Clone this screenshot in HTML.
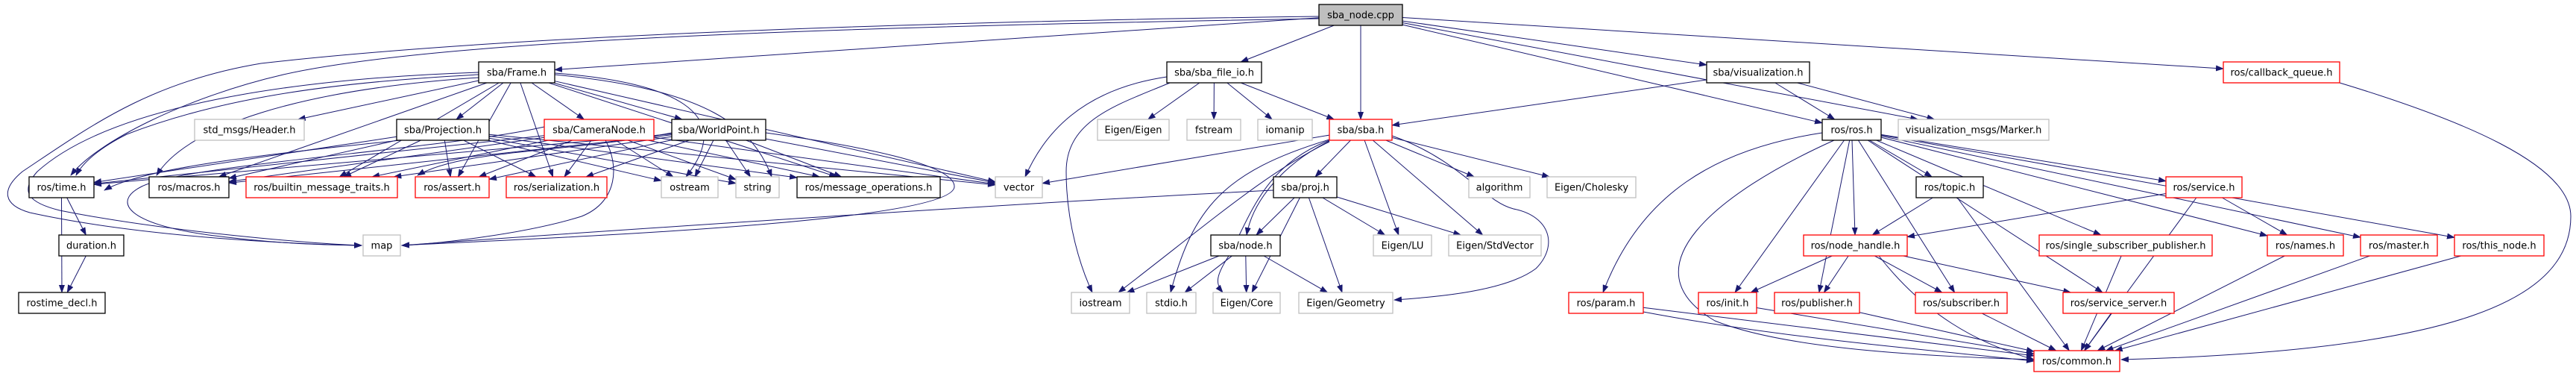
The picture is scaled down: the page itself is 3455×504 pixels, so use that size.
<!DOCTYPE html>
<html><head><meta charset="utf-8">
<style>
html,body{margin:0;padding:0;background:#fff;}
svg{display:block;}
text{font-family:"DejaVu Sans","Liberation Sans",sans-serif;font-size:13px;text-anchor:middle;fill:#000;}
.k{fill:#fff;stroke:#000;stroke-width:1.3}
.r{fill:#fff;stroke:#ff0000;stroke-width:1.3}
.g{fill:#fff;stroke:#bfbfbf;stroke-width:1.3}
.root{fill:#bfbfbf;stroke:#000;stroke-width:1.3}
.e{fill:none;stroke:#191970;stroke-width:1}
</style></head>
<body>
<svg id="s" width="3455" height="504" viewBox="0 0 3455 504" xmlns="http://www.w3.org/2000/svg">
<defs><marker id="a" markerWidth="11" markerHeight="8" refX="10" refY="4" orient="auto" markerUnits="userSpaceOnUse"><path d="M0,0L11,4L0,8z" fill="#191970"/></marker></defs>
<g id="edges"></g>
<g id="nodes">
<rect class="root" x="1769" y="6" width="112" height="28"/><text x="1825" y="24.5">sba_node.cpp</text>
<rect class="k" x="642" y="83" width="102" height="28"/><text x="693" y="101.5">sba/Frame.h</text>
<rect class="k" x="1565" y="83" width="127" height="28"/><text x="1628.5" y="101.5">sba/sba_file_io.h</text>
<rect class="k" x="2289" y="83" width="138" height="28"/><text x="2358" y="101.5">sba/visualization.h</text>
<rect class="r" x="2982" y="83" width="156" height="28"/><text x="3060" y="101.5">ros/callback_queue.h</text>

<rect class="g" x="261" y="160" width="147" height="28"/><text x="334.5" y="178.5">std_msgs/Header.h</text>
<rect class="k" x="532" y="160" width="124" height="28"/><text x="594" y="178.5">sba/Projection.h</text>
<rect class="r" x="730" y="160" width="147" height="28"/><text x="803.5" y="178.5">sba/CameraNode.h</text>
<rect class="k" x="901" y="160" width="126" height="28"/><text x="964" y="178.5">sba/WorldPoint.h</text>
<rect class="g" x="1472" y="160" width="96" height="28"/><text x="1520" y="178.5">Eigen/Eigen</text>
<rect class="g" x="1592" y="160" width="72" height="28"/><text x="1628" y="178.5">fstream</text>
<rect class="g" x="1687" y="160" width="73" height="28"/><text x="1723.5" y="178.5">iomanip</text>
<rect class="r" x="1783" y="160" width="84" height="28"/><text x="1825" y="178.5">sba/sba.h</text>
<rect class="k" x="2444" y="160" width="79" height="28"/><text x="2483.5" y="178.5">ros/ros.h</text>
<rect class="g" x="2546" y="160" width="202" height="28"/><text x="2647" y="178.5">visualization_msgs/Marker.h</text>

<rect class="k" x="39" y="237" width="87" height="28"/><text x="82.5" y="255.5">ros/time.h</text>
<rect class="k" x="200" y="237" width="107" height="28"/><text x="253.5" y="255.5">ros/macros.h</text>
<rect class="r" x="330" y="237" width="203" height="28"/><text x="431.5" y="255.5">ros/builtin_message_traits.h</text>
<rect class="r" x="557" y="237" width="99" height="28"/><text x="606.5" y="255.5">ros/assert.h</text>
<rect class="r" x="679" y="237" width="135" height="28"/><text x="746.5" y="255.5">ros/serialization.h</text>
<rect class="g" x="887" y="237" width="76" height="28"/><text x="925" y="255.5">ostream</text>
<rect class="g" x="987" y="237" width="58" height="28"/><text x="1016" y="255.5">string</text>
<rect class="k" x="1069" y="237" width="192" height="28"/><text x="1165" y="255.5">ros/message_operations.h</text>
<rect class="g" x="1335" y="237" width="63" height="28"/><text x="1366.5" y="255.5">vector</text>
<rect class="k" x="1708" y="237" width="85" height="28"/><text x="1750.5" y="255.5">sba/proj.h</text>
<rect class="g" x="1970" y="237" width="82" height="28"/><text x="2011" y="255.5">algorithm</text>
<rect class="g" x="2075" y="237" width="119" height="28"/><text x="2134.5" y="255.5">Eigen/Cholesky</text>
<rect class="k" x="2570" y="237" width="90" height="28"/><text x="2615" y="255.5">ros/topic.h</text>
<rect class="r" x="2905" y="237" width="102" height="28"/><text x="2956" y="255.5">ros/service.h</text>

<rect class="k" x="79" y="315" width="87" height="28"/><text x="122.5" y="333.5">duration.h</text>
<rect class="g" x="487" y="315" width="50" height="28"/><text x="512" y="333.5">map</text>
<rect class="k" x="1624" y="315" width="93" height="28"/><text x="1670.5" y="333.5">sba/node.h</text>
<rect class="g" x="1842" y="315" width="78" height="28"/><text x="1881" y="333.5">Eigen/LU</text>
<rect class="g" x="1943" y="315" width="124" height="28"/><text x="2005" y="333.5">Eigen/StdVector</text>
<rect class="r" x="2419" y="315" width="139" height="28"/><text x="2488.5" y="333.5">ros/node_handle.h</text>
<rect class="r" x="2735" y="315" width="232" height="28"/><text x="2851" y="333.5">ros/single_subscriber_publisher.h</text>
<rect class="r" x="3041" y="315" width="102" height="28"/><text x="3092" y="333.5">ros/names.h</text>
<rect class="r" x="3166" y="315" width="103" height="28"/><text x="3217.5" y="333.5">ros/master.h</text>
<rect class="r" x="3292" y="315" width="120" height="28"/><text x="3352" y="333.5">ros/this_node.h</text>

<rect class="k" x="25" y="392" width="116" height="28"/><text x="83" y="410.5">rostime_decl.h</text>
<rect class="g" x="1437" y="392" width="78" height="28"/><text x="1476" y="410.5">iostream</text>
<rect class="g" x="1538" y="392" width="66" height="28"/><text x="1571" y="410.5">stdio.h</text>
<rect class="g" x="1627" y="392" width="90" height="28"/><text x="1672" y="410.5">Eigen/Core</text>
<rect class="g" x="1742" y="392" width="126" height="28"/><text x="1805" y="410.5">Eigen/Geometry</text>
<rect class="r" x="2104" y="392" width="100" height="28"/><text x="2154" y="410.5">ros/param.h</text>
<rect class="r" x="2278" y="392" width="78" height="28"/><text x="2317" y="410.5">ros/init.h</text>
<rect class="r" x="2380" y="392" width="114" height="28"/><text x="2437" y="410.5">ros/publisher.h</text>
<rect class="r" x="2569" y="392" width="123" height="28"/><text x="2630.5" y="410.5">ros/subscriber.h</text>
<rect class="r" x="2767" y="392" width="149" height="28"/><text x="2841.5" y="410.5">ros/service_server.h</text>

<rect class="r" x="2728" y="470" width="115" height="28"/><text x="2785.5" y="488.5">ros/common.h</text>
</g>
</svg>
<script>
var N={
root:[1769,6,1881],frame:[642,83,744],fio:[1565,83,1692],vis:[2289,83,2427],cbq:[2982,83,3138],
hdr:[261,160,408],proj:[532,160,656],cam:[730,160,877],wp:[901,160,1027],eig:[1472,160,1568],fst:[1592,160,1664],iom:[1687,160,1760],sba:[1783,160,1867],ros:[2444,160,2523],mrk:[2546,160,2748],
time:[39,237,126],mac:[200,237,307],bmt:[330,237,533],ast:[557,237,656],ser:[679,237,814],ost:[887,237,963],str:[987,237,1045],mop:[1069,237,1261],vec:[1335,237,1398],pj:[1708,237,1793],alg:[1970,237,2052],chol:[2075,237,2194],topic:[2570,237,2660],svc:[2905,237,3007],
dur:[79,315,166],map:[487,315,537],node:[1624,315,1717],lu:[1842,315,1920],stdv:[1943,315,2067],nh:[2419,315,2558],ssp:[2735,315,2967],names:[3041,315,3143],master:[3166,315,3269],tn:[3292,315,3412],
rtd:[25,392,141],ios:[1437,392,1515],stdio:[1538,392,1604],core:[1627,392,1717],geo:[1742,392,1868],param:[2104,392,2204],init:[2278,392,2356],pub:[2380,392,2494],sub:[2569,392,2692],ss:[2767,392,2916],
common:[2728,470,2843]};
function box(k){var b=N[k];return {cx:(b[0]+b[2])/2,cy:b[1]+14,hw:(b[2]-b[0])/2,hh:14};}
function bnd(B,px,py){var dx=px-B.cx,dy=py-B.cy;var t=Math.min(Math.abs(dx)>0.01?B.hw/Math.abs(dx):1e9,Math.abs(dy)>0.01?B.hh/Math.abs(dy):1e9);return [B.cx+dx*t,B.cy+dy*t];}
var E=[
['root','frame'],['root','fio'],['root','sba'],['root','vis'],['root','ros'],['root','cbq'],['root','mrk'],
['frame','hdr'],['frame','proj'],['frame','cam'],['frame','wp'],['frame','mac'],['frame','bmt'],['frame','ast'],['frame','ser'],['frame','mop'],['frame','vec'],
['proj','time'],['proj','mac'],['proj','bmt'],['proj','ast'],['proj','ser'],['proj','ost'],['proj','str'],['proj','mop'],['proj','vec'],
['cam','time'],['cam','mac'],['cam','bmt'],['cam','ast'],['cam','ser'],['cam','ost'],['cam','str'],['cam','mop'],['cam','vec'],
['wp','time'],['wp','mac'],['wp','bmt'],['wp','ast'],['wp','ser'],['wp','ost'],['wp','str'],['wp','mop'],['wp','vec'],
['fio','eig'],['fio','fst'],['fio','iom'],['fio','sba'],
['sba','vec'],['sba','pj'],['sba','lu'],['sba','stdv'],['sba','alg'],['sba','chol'],
['pj','node'],['pj','core'],['pj','geo'],['pj','lu'],['pj','stdv'],
['node','ios'],['node','stdio'],['node','core'],['node','geo'],
['vis','sba'],['vis','ros'],['vis','mrk'],
['ros','init'],['ros','pub'],['ros','nh'],['ros','sub'],['ros','topic'],['ros','svc'],['ros','ssp'],['ros','names'],['ros','master'],['ros','tn'],['ros','ss'],
['topic','nh'],['topic','common'],['svc','nh'],['svc','names'],['svc','common'],
['nh','init'],['nh','pub'],['nh','sub'],['nh','ss'],
['param','common'],['init','common'],['pub','common'],['sub','common'],['ss','common'],['ssp','common'],['names','common'],['master','common'],['tn','common'],
['time','dur'],['time','rtd'],['dur','rtd']
];
var P=[
"M1769,22 C1300,28 700,45 350,85 C200,110 120,170 30,230 C0,255 5,275 40,285 C200,320 420,328 485,329",
"M642,97 C400,105 150,140 50,230 C25,258 40,272 80,282 C220,310 420,327 485,329",
"M1769,25 C1200,35 600,50 380,100 C250,130 130,190 95,235",
"M642,100 C450,110 300,130 170,180 C130,200 110,220 102,235",
"M642,104 C400,120 250,170 210,235",
"M656,176 C420,200 200,220 140,255",
"M730,170 C600,200 250,220 190,250 C150,270 170,300 280,315 C380,328 440,328 485,329",
"M901,178 C760,205 620,200 560,235",
"M812,188 C830,220 830,270 780,290 C700,315 580,327 539,329",
"M1027,178 C1150,195 1280,220 1280,250 C1280,300 700,320 539,329",
"M1708,255 C1400,270 800,310 539,329",
"M744,98 C900,110 990,150 920,237",
"M744,100 C950,120 1010,170 1035,237",
"M1565,103 C1450,120 1400,180 1375,237",
"M1569,111 C1500,140 1430,160 1430,230 C1430,300 1450,360 1465,392",
"M1783,187 C1640,230 1600,280 1570,392",
"M1783,188 C1700,220 1680,280 1650,340 C1630,370 1630,380 1640,392",
"M1783,190 C1700,230 1620,300 1500,392",
"M1783,189 C1720,220 1680,270 1672,315",
"M1867,182 C1960,215 1990,270 2030,280 C2080,290 2090,330 2060,360 C2020,390 1930,398 1870,402",
"M2444,178 C2300,200 2200,260 2150,392",
"M2460,188 C2300,260 2180,360 2300,430 C2400,470 2600,478 2728,482",
"M3138,111 C3300,160 3448,220 3448,290 C3448,400 3300,470 2845,482",
"M2204,418 C2400,455 2600,470 2728,484",
"M2520,343 C2580,420 2650,460 2728,482"
];
var g=document.getElementById('edges'),h='';
E.forEach(function(e){var S=box(e[0]),T=box(e[1]);var p=bnd(S,T.cx,T.cy),q=bnd(T,S.cx,S.cy);h+='<path class="e" marker-end="url(#a)" d="M'+p[0].toFixed(1)+','+p[1].toFixed(1)+'L'+q[0].toFixed(1)+','+q[1].toFixed(1)+'"/>';});
P.forEach(function(d){h+='<path class="e" marker-end="url(#a)" d="'+d+'"/>';});
g.innerHTML=h;
</script>
</body></html>
